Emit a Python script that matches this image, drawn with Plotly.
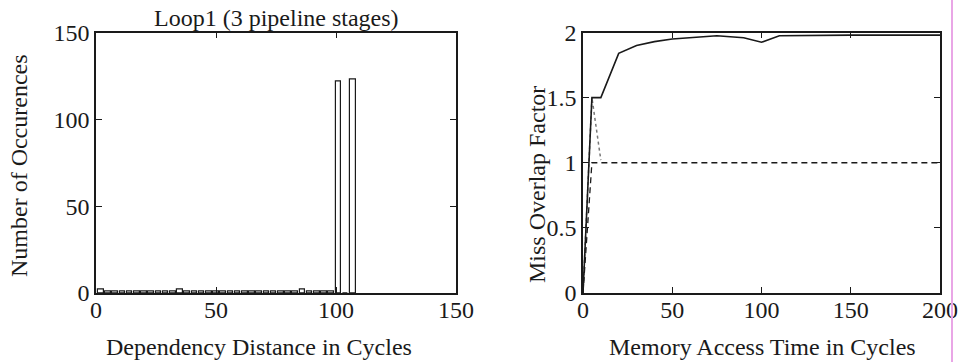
import plotly.graph_objects as go

# Histogram of dependency distances (bin width 3, bars drawn at 0.8 of bin)
dist_centers = [2, 5, 8, 11, 14, 17, 20, 23, 26, 29, 32, 35, 38, 41, 44, 47, 50,
                53, 56, 59, 62, 65, 68, 71, 74, 77, 80, 83, 86, 89, 92, 95, 98,
                101, 104, 107]
dist_counts = [2, 1, 1, 1, 1, 1, 1, 1, 1, 1, 1, 2, 1, 1, 1, 1, 1,
               1, 1, 1, 1, 1, 1, 1, 1, 1, 1, 1, 2, 1, 1, 1, 1,
               122, 0, 123]

# Miss overlap factor vs. memory access time
mem_time_solid = [0, 5, 10, 20, 30, 40, 50, 75, 90, 100, 110, 150, 200]
overlap_solid = [0, 1.5, 1.5, 1.84, 1.9, 1.93, 1.95, 1.975, 1.96, 1.925, 1.975, 1.98, 1.98]

mem_time_dashed = [0, 5, 10, 50, 100, 150, 200]
overlap_dashed = [0, 1.0, 1.0, 1.0, 1.0, 1.0, 1.0]

# dotted curve; beyond 10 cycles it coincides with the dashed one
mem_time_dotted = [0, 5, 10]
overlap_dotted = [0, 1.5, 1.02]

left_xticks = [0, 50, 100, 150]
left_yticks = [0, 50, 100, 150]
right_xticks = [0, 50, 100, 150, 200]
right_yticks = [0, 0.5, 1, 1.5, 2]
right_yticktext = ["0", "0.5", "1", "1.5", "2"]

FONT = "Liberation Serif"
FS = 24
INK = "#1a1a1a"

fig = go.Figure()

fig.add_trace(go.Bar(
    x=dist_centers, y=dist_counts, width=2.4,
    marker=dict(color="white", line=dict(color=INK, width=1.2)),
    xaxis="x", yaxis="y", showlegend=False,
))

fig.add_trace(go.Scatter(
    x=mem_time_dotted, y=overlap_dotted, mode="lines",
    line=dict(color="#777777", width=1.5, dash="dot"),
    xaxis="x2", yaxis="y2", showlegend=False,
))
fig.add_trace(go.Scatter(
    x=mem_time_dashed, y=overlap_dashed, mode="lines",
    line=dict(color=INK, width=1.3, dash="6px,4px"),
    xaxis="x2", yaxis="y2", showlegend=False,
))
fig.add_trace(go.Scatter(
    x=mem_time_solid, y=overlap_solid, mode="lines",
    line=dict(color=INK, width=1.6),
    xaxis="x2", yaxis="y2", showlegend=False,
))

axis_common = dict(
    showgrid=False, zeroline=False, ticks="inside", ticklen=6, tickwidth=1.2,
    tickcolor=INK, showline=True, linecolor=INK, linewidth=1.5, mirror="ticks",
    automargin=False,
    tickfont=dict(family=FONT, size=FS, color=INK),
)

y_dom = [1 - 293 / 362, 1 - 32.5 / 362]

fig.update_layout(
    width=959, height=362,
    margin=dict(l=0, r=0, t=0, b=0),
    paper_bgcolor="white", plot_bgcolor="white",
    bargap=0,
    font=dict(family=FONT, size=FS, color=INK),
    xaxis=dict(domain=[96 / 959, 456 / 959], range=[0, 150],
               tickvals=left_xticks, anchor="y", ticklabelstandoff=-6,
               **axis_common),
    yaxis=dict(domain=y_dom, range=[0, 150],
               tickvals=left_yticks, anchor="x", **axis_common),
    xaxis2=dict(domain=[583 / 959, 940 / 959], range=[0, 200],
                tickvals=right_xticks, anchor="y2", ticklabelstandoff=-6,
                **axis_common),
    yaxis2=dict(domain=y_dom, range=[0, 2],
                tickvals=right_yticks, ticktext=right_yticktext,
                anchor="x2", **axis_common),
    annotations=[
        dict(text="Loop1 (3 pipeline stages)", x=276 / 959, y=1 - 18 / 362,
             xref="paper", yref="paper", showarrow=False,
             xanchor="center", yanchor="middle", font=dict(size=FS)),
        dict(text="Dependency Distance in Cycles", x=259 / 959, y=1 - 347 / 362,
             xref="paper", yref="paper", showarrow=False,
             xanchor="center", yanchor="middle", font=dict(size=FS)),
        dict(text="Memory Access Time in Cycles", x=762 / 959, y=1 - 347 / 362,
             xref="paper", yref="paper", showarrow=False,
             xanchor="center", yanchor="middle", font=dict(size=FS)),
        dict(text="Number of Occurences", x=19 / 959, y=1 - 166 / 362,
             xref="paper", yref="paper", showarrow=False, textangle=-90,
             xanchor="center", yanchor="middle", font=dict(size=FS)),
        dict(text="Miss Overlap Factor", x=537 / 959, y=1 - 185 / 362,
             xref="paper", yref="paper", showarrow=False, textangle=-90,
             xanchor="center", yanchor="middle", font=dict(size=FS)),
    ],
    shapes=[
        dict(type="line", xref="paper", yref="paper",
             x0=952 / 959, x1=952 / 959, y0=0, y1=1,
             line=dict(color="#e9a6e6", width=2)),
    ],
)

fig.write_html("out.html")
